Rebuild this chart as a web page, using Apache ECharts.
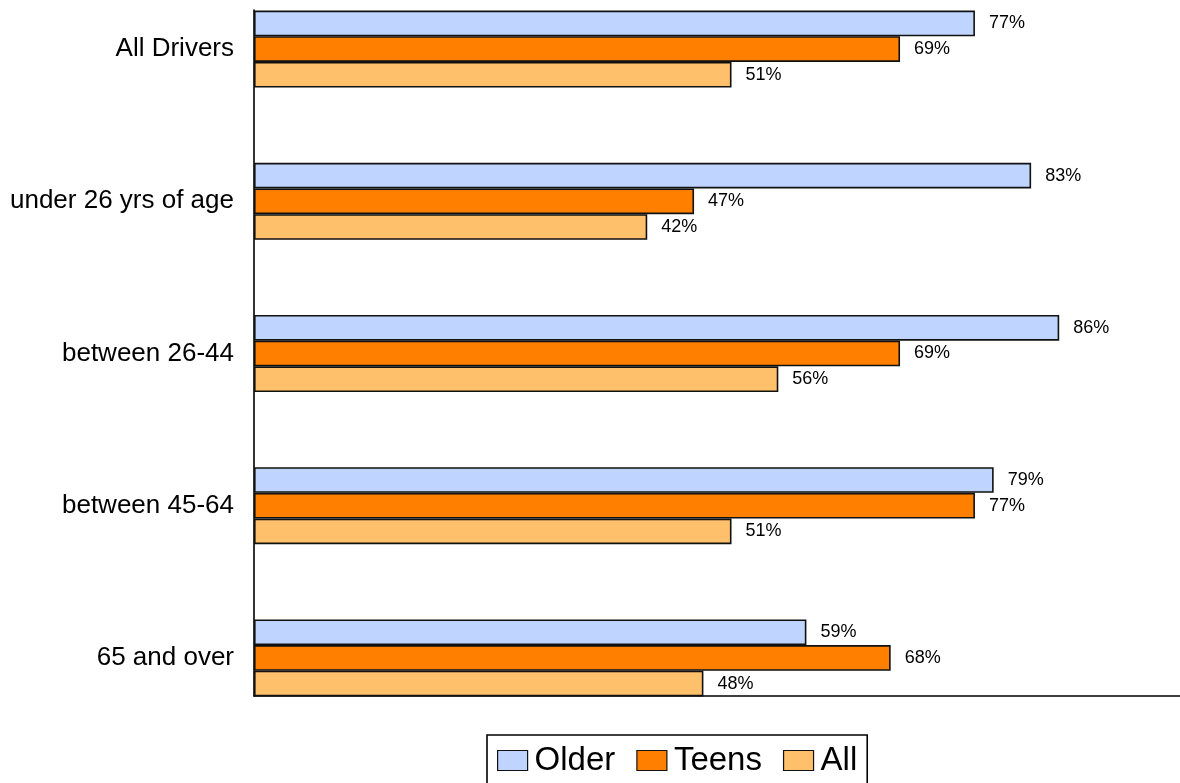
<!DOCTYPE html>
<html>
<head>
<meta charset="utf-8">
<script src="https://cdn.jsdelivr.net/npm/echarts@6/dist/echarts.min.js"></script>
<style>
  html, body { margin: 0; padding: 0; background: #fff; width: 1180px; height: 783px; overflow: hidden; }
  /* the canvas starts a little above the page so the first band can sit partly off-screen */
  #chart { width: 1180px; height: 830px; margin-top: -27px; }
</style>
</head>
<body>
<div id="chart"></div>
<script>
// Driver groups, top to bottom
const categories = ['All Drivers', 'under 26 yrs of age', 'between 26-44', 'between 45-64', '65 and over'];
const seriesNames = ['Older', 'Teens', 'All'];
// Percentages per group
const olderValues = [77, 83, 86, 79, 59];
const teensValues = [69, 47, 69, 77, 68];
const allValues = [51, 42, 56, 51, 48];

const colors = ['#BFD5FF', '#FF8000', '#FFC06B'];
const font = 'Arial, "Liberation Sans", sans-serif';
const xMax = 98.9;

function barSeries(name, values, color) {
  return {
    name: name,
    type: 'bar',
    xAxisIndex: 0,
    yAxisIndex: 0,
    data: values,
    barGap: '0%',
    barCategoryGap: '49.4%',
    itemStyle: { color: color, borderColor: '#111', borderWidth: 1.6 },
    label: {
      show: true,
      position: 'right',
      distance: 14,
      formatter: '{c}%',
      color: '#000',
      fontSize: 18,
      fontFamily: font
    }
  };
}

const chart = echarts.init(document.getElementById('chart'), null, { renderer: 'canvas' });
chart.setOption({
  animation: false,
  backgroundColor: '#fff',
  grid: [
    // bar area
    { left: 254, top: 0, right: 0, height: 761, containLabel: false },
    // frame carrying the axis lines
    { left: 254, top: 37, right: 0, height: 686, containLabel: false }
  ],
  xAxis: [
    { gridIndex: 0, type: 'value', min: 0, max: xMax, show: false },
    {
      gridIndex: 1, type: 'value', min: 0, max: xMax,
      axisLine: { show: true, lineStyle: { color: '#000', width: 1.6 } },
      axisTick: { show: false }, axisLabel: { show: false }, splitLine: { show: false }
    }
  ],
  yAxis: [
    {
      gridIndex: 0, type: 'category', data: categories, inverse: true,
      axisLine: { show: false }, axisTick: { show: false }, splitLine: { show: false },
      axisLabel: { color: '#000', fontSize: 26, fontFamily: font, margin: 20, padding: [3, 0, 0, 0] }
    },
    {
      gridIndex: 1, type: 'value', min: 0, max: 1,
      axisLine: { show: true, lineStyle: { color: '#000', width: 1.6 } },
      axisTick: { show: false }, axisLabel: { show: false }, splitLine: { show: false }
    }
  ],
  legend: {
    data: seriesNames,
    left: 487,
    top: 762,
    orient: 'horizontal',
    itemWidth: 30,
    itemHeight: 20,
    itemGap: 21,
    icon: 'rect',
    padding: [9, 10, 7, 10],
    borderColor: '#000',
    borderWidth: 1.6,
    textStyle: { color: '#000', fontSize: 33, fontFamily: font, padding: [0, 0, 0, 2] },
    itemStyle: { borderColor: '#111', borderWidth: 1.2 }
  },
  series: [
    barSeries(seriesNames[0], olderValues, colors[0]),
    barSeries(seriesNames[1], teensValues, colors[1]),
    barSeries(seriesNames[2], allValues, colors[2])
  ]
});
</script>
</body>
</html>
